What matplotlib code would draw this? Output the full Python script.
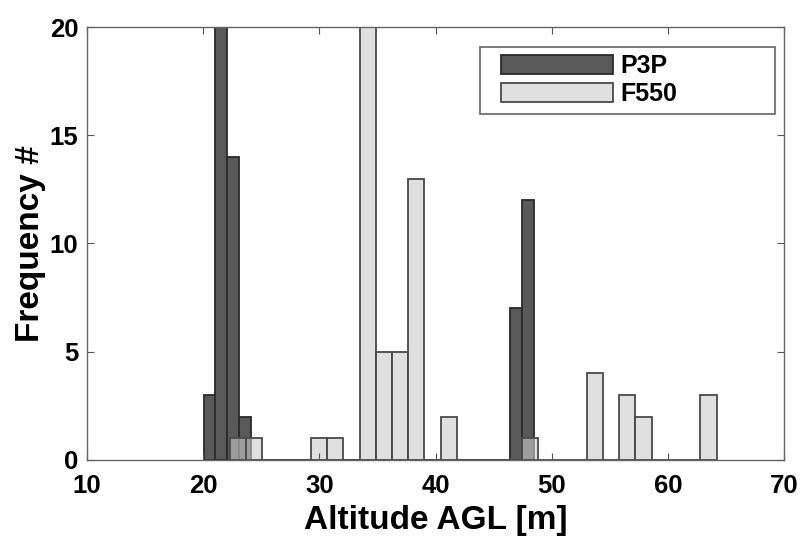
import numpy as np
from matplotlib import pyplot as plt
from matplotlib.patches import Rectangle
from matplotlib.container import BarContainer
from matplotlib.legend_handler import HandlerPatch

plt.rcParams['font.family'] = ['Liberation Sans', 'DejaVu Sans']
plt.rcParams['font.weight'] = 'bold'

# P3P histogram (bin start, bin width, counts)
p3p_start = 20.05
p3p_width = 1.0143
p3p_counts = [3, 20, 14, 2] + [0] * 22 + [7, 12]

# F550 histogram
f550_start = 22.3
f550_width = 1.396
f550_counts = [1, 1, 0, 0, 0, 1, 1, 0, 20, 5, 5, 13, 0, 2, 0, 0, 0, 0, 1,
               0, 0, 0, 4, 0, 3, 2, 0, 0, 0, 3]

labels = ["P3P", "F550"]

fig = plt.figure(figsize=(8.11, 5.52), dpi=100)
ax = fig.add_axes([0.107, 0.167, 0.860, 0.784])

p3p_left = p3p_start + p3p_width * np.arange(len(p3p_counts))
f550_left = f550_start + f550_width * np.arange(len(f550_counts))

ax.bar(p3p_left, p3p_counts, width=p3p_width, align='edge',
       color='#595959', edgecolor='#2a2a2a', linewidth=1.3, label=labels[0])
ax.bar(f550_left, f550_counts, width=f550_width, align='edge',
       color=(0.8, 0.8, 0.8, 0.6), edgecolor='#4a4a4a', linewidth=1.3,
       label=labels[1])

ax.set_xlim(10, 70)
ax.set_ylim(0, 20)
ax.set_xticks(range(10, 71, 10))
ax.set_yticks([0, 5, 10, 15, 20])
ax.tick_params(direction='in', top=True, right=True, labelsize=18.5,
               length=5, color='#555555')
ax.tick_params(axis='x', pad=10)
ax.tick_params(axis='y', pad=6)
for s in ax.spines.values():
    s.set_color('#666666')
    s.set_linewidth(1.0)

ax.set_xlabel("Altitude AGL [m]", fontsize=24, fontweight='bold', labelpad=5)
ax.set_ylabel("Frequency #", fontsize=24, fontweight='bold', labelpad=3)


# legend swatch with extra space on its left, like the original
def swatch(legend, orig_handle, xdescent, ydescent, width, height, fontsize):
    off = 9.5
    return Rectangle((-xdescent + off, -ydescent), width - off, height)


def copy_style(legend_handle, orig_handle):
    legend_handle.update_from(orig_handle.patches[0])


leg = ax.legend(loc='upper left', bbox_to_anchor=(0.564, 0.804, 0.423, 0.15),
                mode='expand', fontsize=18,
                handlelength=5.0, handleheight=0.8, handletextpad=0.3,
                borderpad=0.3, labelspacing=0.15, borderaxespad=0,
                fancybox=False, edgecolor='#666666', framealpha=1,
                handler_map={BarContainer: HandlerPatch(patch_func=swatch,
                                                        update_func=copy_style)})
leg.get_frame().set_linewidth(1.2)

plt.savefig("out.png", dpi=100)
